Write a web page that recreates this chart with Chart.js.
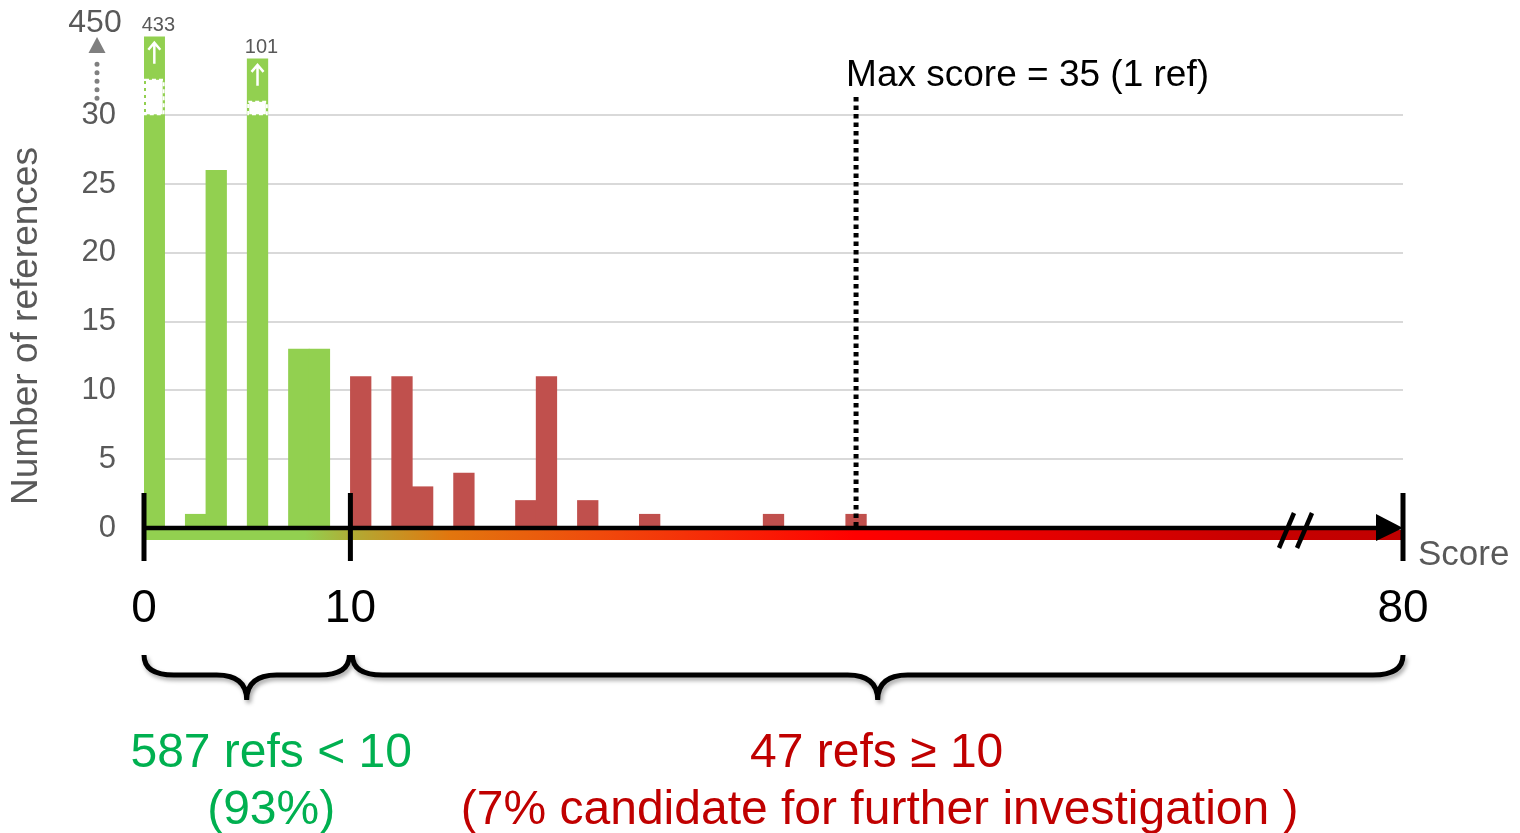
<!DOCTYPE html>
<html>
<head>
<meta charset="utf-8">
<script src="https://cdn.jsdelivr.net/npm/chart.js@4.4.0/dist/chart.umd.min.js"></script>
<style>
  html, body { margin: 0; padding: 0; background: #fff; }
  #wrap { width: 1520px; height: 833px; position: relative; }
</style>
</head>
<body>
<div id="wrap"><canvas id="scoreChart"></canvas></div>
<script>
// Score bins and how many references landed in each one
const scores = [1, 2, 3, 4, 5, 6, 7, 8, 9, 10, 11, 12, 13, 14, 15, 16, 17, 18,
                19, 20, 21, 22, 23, 24, 25, 26, 27, 28, 29, 30, 31, 32, 33, 34, 35];
const refCounts = [433, 0, 1, 26, 0, 101, 0, 13, 13, 0, 11, 0, 11, 3, 0, 4, 0, 0,
                   2, 11, 0, 2, 0, 0, 1, 0, 0, 0, 0, 0, 1, 0, 0, 0, 1];

const yTicks = [0, 5, 10, 15, 20, 25, 30];
const axisMarks = [0, 10];       // score marks drawn on the axis
const axisEndLabel = '80';       // right end of the (broken) score axis
const yTopLabel = '450';

const THRESHOLD = 10;
const BREAK = 30;
const FONT = "'Liberation Sans', Arial, sans-serif";
const GREEN = '#92d050';
const RED = '#c0504d';
const GRAY = '#595959';

// values above the break get squeezed into the short band above 30
const toAxis = v => v <= BREAK ? v : BREAK + 2.77 + 1.1 * Math.log(v / BREAK);

const lowTotal = refCounts.filter((c, i) => scores[i] < THRESHOLD).reduce((a, b) => a + b, 0);
const highTotal = refCounts.filter((c, i) => scores[i] >= THRESHOLD).reduce((a, b) => a + b, 0);
const allTotal = lowTotal + highTotal;
const maxScore = Math.max(...scores.filter((s, i) => refCounts[i] > 0));
const maxScoreRefs = refCounts[scores.indexOf(maxScore)];

const drawBrace = (ctx, x1, x2, yTop, yMid, yTip) => {
    const xm = (x1 + x2) / 2;
    const r = 30;
    ctx.beginPath();
    ctx.moveTo(x1, yTop);
    ctx.quadraticCurveTo(x1, yMid, x1 + r, yMid);
    ctx.lineTo(xm - r, yMid);
    ctx.quadraticCurveTo(xm, yMid, xm, yTip);
    ctx.quadraticCurveTo(xm, yMid, xm + r, yMid);
    ctx.lineTo(x2 - r, yMid);
    ctx.quadraticCurveTo(x2, yMid, x2, yTop);
    ctx.stroke();
};

const overlay = {
    id: 'overlay',
    afterDraw(chart) {
        const ctx = chart.ctx;
        const xs = chart.scales.x, ys = chart.scales.y;
        const area = chart.chartArea;
        const y0 = ys.getPixelForValue(0);
        const yBreak = ys.getPixelForValue(BREAK);
        const meta = chart.getDatasetMeta(0);

        ctx.save();

        // broken bars: white gap, up arrow and the real count above
        refCounts.forEach((c, i) => {
            if (c <= BREAK) return;
            const bar = meta.data[i];
            const w = bar.width;
            const left = bar.x - w / 2;
            ctx.fillStyle = '#fff';
            ctx.fillRect(left + 2, bar.y + 43, w - 4, yBreak - bar.y - 44);
            ctx.strokeStyle = '#fff';
            ctx.lineWidth = 2;
            ctx.setLineDash([4, 3]);
            ctx.strokeRect(left + 1, bar.y + 43, w - 2, yBreak - bar.y - 44);
            ctx.setLineDash([]);
            ctx.lineWidth = 2.5;
            ctx.beginPath();
            ctx.moveTo(bar.x, bar.y + 27);
            ctx.lineTo(bar.x, bar.y + 6);
            ctx.moveTo(bar.x - 6, bar.y + 13);
            ctx.lineTo(bar.x, bar.y + 6);
            ctx.lineTo(bar.x + 6, bar.y + 13);
            ctx.stroke();
            ctx.fillStyle = GRAY;
            ctx.font = `20px ${FONT}`;
            ctx.textAlign = 'center';
            ctx.textBaseline = 'alphabetic';
            ctx.fillText(String(c), bar.x + 4, bar.y - 6);
        });

        // coloured band under the axis
        const grad = ctx.createLinearGradient(area.left, 0, area.right, 0);
        const stop = px => Math.min(1, Math.max(0, (px - area.left) / (area.right - area.left)));
        grad.addColorStop(0, GREEN);
        grad.addColorStop(stop(305), GREEN);
        grad.addColorStop(stop(358), '#b4a832');
        grad.addColorStop(stop(450), '#e2760e');
        grad.addColorStop(stop(600), '#f04a0c');
        grad.addColorStop(stop(855), '#ff0000');
        grad.addColorStop(stop(1250), '#c80000');
        grad.addColorStop(1, '#c00000');
        ctx.fillStyle = grad;
        ctx.fillRect(area.left, y0 + 2, area.right - area.left, 10);

        // black axis with arrow head
        ctx.strokeStyle = '#000';
        ctx.fillStyle = '#000';
        ctx.lineWidth = 4.5;
        ctx.beginPath();
        ctx.moveTo(area.left, y0);
        ctx.lineTo(area.right - 24, y0);
        ctx.stroke();
        ctx.beginPath();
        ctx.moveTo(area.right - 27, y0 - 14);
        ctx.lineTo(area.right, y0);
        ctx.lineTo(area.right - 27, y0 + 13);
        ctx.closePath();
        ctx.fill();

        // axis break "//"
        ctx.lineWidth = 4.5;
        [area.right - 124, area.right - 106].forEach(bx => {
            ctx.beginPath();
            ctx.moveTo(bx, y0 + 20);
            ctx.lineTo(bx + 15, y0 - 15);
            ctx.stroke();
        });

        // score marks and labels
        const marks = axisMarks.map(v => ({ x: xs.getPixelForValue(v), label: String(v) }));
        marks.push({ x: area.right, label: axisEndLabel });
        ctx.lineWidth = 5;
        ctx.font = `46px ${FONT}`;
        ctx.textAlign = 'center';
        ctx.textBaseline = 'alphabetic';
        marks.forEach(m => {
            ctx.beginPath();
            ctx.moveTo(m.x, y0 - 35);
            ctx.lineTo(m.x, y0 + 33);
            ctx.stroke();
            ctx.fillText(m.label, m.x, 622);
        });

        ctx.fillStyle = GRAY;
        ctx.font = `35px ${FONT}`;
        ctx.textAlign = 'left';
        ctx.fillText('Score', area.right + 15, y0 + 37);

        // dotted line at the max score
        const mx = xs.getPixelForValue(maxScore - 0.5);
        ctx.strokeStyle = '#000';
        ctx.lineWidth = 5;
        ctx.setLineDash([4.5, 4]);
        ctx.beginPath();
        ctx.moveTo(mx, 97);
        ctx.lineTo(mx, y0 - 2);
        ctx.stroke();
        ctx.setLineDash([]);
        ctx.fillStyle = '#000';
        ctx.font = `37px ${FONT}`;
        ctx.fillText(`Max score = ${maxScore} (${maxScoreRefs} ref)`, mx - 10, 86);

        // 30 ... -> 450 hint on the y axis
        const ax = 97;
        ctx.strokeStyle = '#7f7f7f';
        ctx.fillStyle = '#7f7f7f';
        ctx.lineWidth = 5;
        ctx.lineCap = 'round';
        ctx.setLineDash([0, 8.5]);
        ctx.beginPath();
        ctx.moveTo(ax, yBreak - 17);
        ctx.lineTo(ax, 58);
        ctx.stroke();
        ctx.setLineDash([]);
        ctx.lineCap = 'butt';
        ctx.beginPath();
        ctx.moveTo(ax, 37);
        ctx.lineTo(ax + 8.5, 53);
        ctx.lineTo(ax - 8.5, 53);
        ctx.closePath();
        ctx.fill();
        ctx.fillStyle = GRAY;
        ctx.font = `32px ${FONT}`;
        ctx.textAlign = 'center';
        ctx.fillText(yTopLabel, 95, 32);

        // y axis title
        ctx.save();
        ctx.translate(27, 326);
        ctx.rotate(-Math.PI / 2);
        ctx.font = `37px ${FONT}`;
        ctx.textBaseline = 'middle';
        ctx.fillText('Number of references', 0, 0);
        ctx.restore();

        // braces
        const x0 = marks[0].x, x10 = marks[1].x, xEnd = area.right;
        ctx.save();
        ctx.strokeStyle = '#000';
        ctx.lineWidth = 5;
        ctx.shadowColor = 'rgba(0,0,0,0.35)';
        ctx.shadowBlur = 4;
        ctx.shadowOffsetX = 2;
        ctx.shadowOffsetY = 3;
        drawBrace(ctx, x0, x10 - 1, 655, 675, 700);
        drawBrace(ctx, x10 + 2, xEnd, 655, 675, 700);
        ctx.restore();

        // summary text
        ctx.font = `48px ${FONT}`;
        ctx.textAlign = 'center';
        ctx.textBaseline = 'alphabetic';
        const lowPct = Math.round(lowTotal / allTotal * 100);
        const highPct = Math.round(highTotal / allTotal * 100);
        const lowX = (x0 + x10) / 2 + 24;
        const highX = (x10 + xEnd) / 2 + 3;
        ctx.fillStyle = '#00b050';
        ctx.fillText(`${lowTotal} refs < ${THRESHOLD}`, lowX, 767);
        ctx.fillText(`(${lowPct}%)`, lowX, 824);
        ctx.fillStyle = '#c00000';
        ctx.fillText(`${highTotal} refs \u2265 ${THRESHOLD}`, highX - 3, 767);
        ctx.fillText(`(${highPct}% candidate for further investigation )`, highX, 824);

        ctx.restore();
    }
};

const ctx = document.getElementById('scoreChart');
new Chart(ctx, {
    type: 'bar',
    data: {
        datasets: [{
            data: scores.map((s, i) => ({ x: s - 0.5, y: toAxis(refCounts[i]) })),
            backgroundColor: scores.map(s => s < THRESHOLD ? GREEN : RED),
            borderWidth: 0,
            barPercentage: 1,
            categoryPercentage: 1
        }]
    },
    options: {
        responsive: true,
        maintainAspectRatio: false,
        animation: false,
        layout: { padding: { left: 0, top: 19, right: 117, bottom: 305 } },
        plugins: {
            legend: { display: false },
            tooltip: { enabled: false }
        },
        scales: {
            x: { type: 'linear', min: 0, max: 61, offset: false, display: false },
            y: {
                min: 0,
                max: 37,
                afterBuildTicks: s => { s.ticks = yTicks.map(v => ({ value: v })); },
                afterFit: s => {
                    s.width = 144;
                    s.paddingTop = 0;
                    s.paddingBottom = 0;
                },
                border: { display: false },
                grid: {
                    color: c => c.tick && c.tick.value === 0 ? 'rgba(0,0,0,0)' : '#d9d9d9',
                    lineWidth: 2,
                    drawTicks: false
                },
                ticks: { color: GRAY, font: { size: 31, family: FONT }, padding: 28 }
            }
        }
    },
    plugins: [overlay]
});
</script>
</body>
</html>
